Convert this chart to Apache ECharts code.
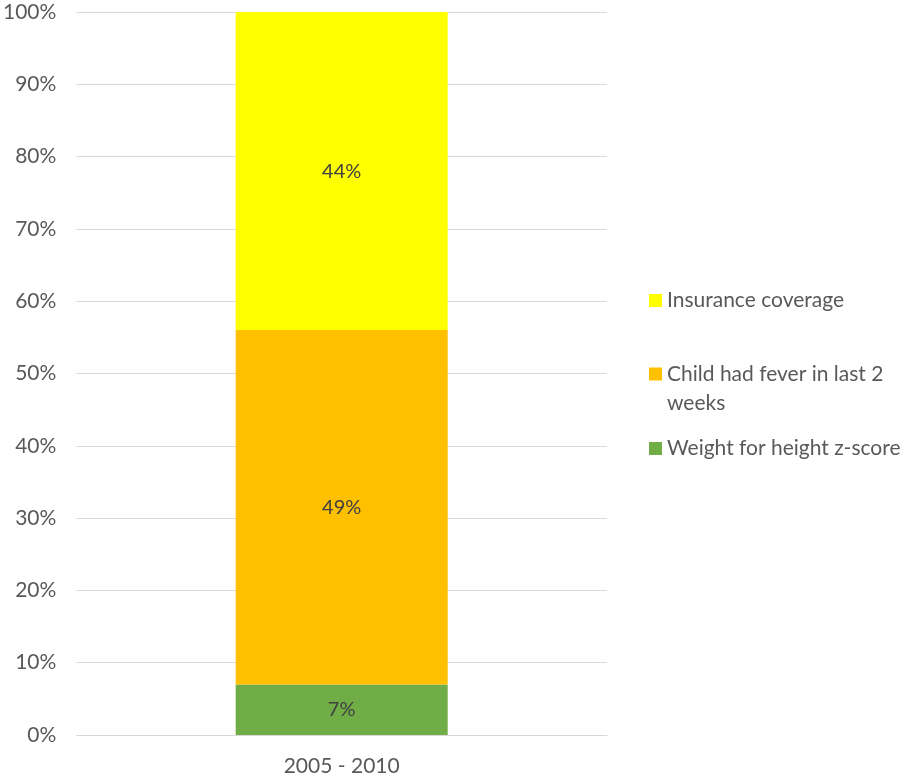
<!DOCTYPE html>
<html>
<head>
<meta charset="utf-8">
<script src="https://cdn.jsdelivr.net/npm/echarts@6/dist/echarts.min.js"></script>
<style>
  html, body { margin: 0; padding: 0; background: #fff; }
  #chart { width: 915px; height: 777px; }
</style>
</head>
<body>
<div id="chart"></div>
<script>
// Period shown on the x axis
const categories = ['2005 - 2010'];

// Stacked shares (percent), bottom to top
const weightForHeight = [7];
const childFever = [49];
const insuranceCoverage = [44];

const seriesNames = ['Weight for height z-score', 'Child had fever in last 2 weeks', 'Insurance coverage'];
const seriesColors = ['#70AD47', '#FFC000', '#FFFF00'];
const seriesValues = [weightForHeight, childFever, insuranceCoverage];

const FONT = 'Lato, "Open Sans", sans-serif';
const TEXT = '#595959';

const chart = echarts.init(document.getElementById('chart'));

const series = seriesNames.map((name, i) => ({
  name,
  type: 'bar',
  stack: 'total',
  data: seriesValues[i],
  barWidth: 212,
  itemStyle: { color: seriesColors[i] },
  label: {
    show: true,
    position: 'inside',
    formatter: p => p.value + '%',
    color: '#404040',
    fontFamily: FONT,
    fontSize: 20
  }
}));

// Legend marker sits beside the first line of text
const topAlignedSquare = 'path://M0,0L13,0L13,13L0,13Z M0,43L0.01,43';

const legendBase = {
  orient: 'vertical',
  left: 644,
  padding: 5,
  itemWidth: 13,
  itemHeight: 13,
  icon: 'rect',
  itemGap: 0,
  textStyle: { color: TEXT, fontFamily: FONT, fontSize: 21 }
};

chart.setOption({
  animation: false,
  grid: { left: 75, right: 308, top: 12, bottom: 42 },
  legend: [
    Object.assign({}, legendBase, { top: 285, data: ['Insurance coverage'] }),
    Object.assign({}, legendBase, {
      top: 355,
      data: ['Child had fever in last 2 weeks'],
      itemHeight: 43,
      icon: topAlignedSquare,
      formatter: () => 'Child had fever in last 2\nweeks',
      textStyle: Object.assign({}, legendBase.textStyle, { lineHeight: 29 })
    }),
    Object.assign({}, legendBase, { top: 433, data: ['Weight for height z-score'] })
  ],
  xAxis: {
    type: 'category',
    data: categories,
    axisLine: { lineStyle: { color: '#D9D9D9', width: 1 } },
    axisTick: { show: false },
    axisLabel: { color: TEXT, fontFamily: FONT, fontSize: 21, margin: 21 }
  },
  yAxis: {
    type: 'value',
    min: 0,
    max: 100,
    interval: 10,
    axisLine: { show: false },
    axisTick: { show: false },
    splitLine: { lineStyle: { color: '#D9D9D9', width: 1 } },
    axisLabel: {
      color: TEXT,
      fontFamily: FONT,
      fontSize: 21,
      margin: 20,
      formatter: v => v + '%'
    }
  },
  series
});
</script>
</body>
</html>
